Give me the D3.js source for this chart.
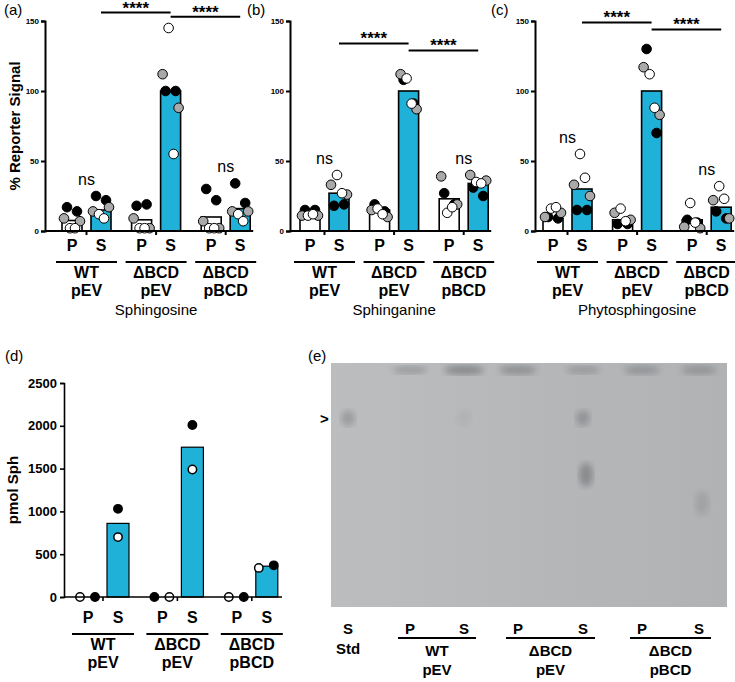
<!DOCTYPE html>
<html><head><meta charset="utf-8">
<script src="https://cdn.jsdelivr.net/npm/d3@7"></script>
<style>body{margin:0;background:#fff}text{font-family:"Liberation Sans",Arial,sans-serif}</style>
</head><body>
<svg id="fig" width="735" height="682"></svg>
<script>
// data
var groups = [["WT", "pEV"], ["\u0394BCD", "pEV"], ["\u0394BCD", "pBCD"]];
var fractions = ["P", "S"];
// point order per bar: black, black, gray, gray, white, white
var sphingosineBars = [7.5, 15, 8, 100, 10, 16];
var sphingosinePts = [[17, 14, 9, 7, 2, 2], [25, 22, 14, 17, 12, 9], [18, 19, 9, 2, 2, 2],
  [100, 100, 112, 88, 145, 55], [30, 22, 7, 2, 2, 2], [34, 20, 14, 14, 12, 7]];
var sphinganineBars = [13, 27, 15, 100, 23, 34];
var sphinganinePts = [[15, 15, 11, 11, 11, 12], [18, 19, 33, 26, 40, 27], [19, 14, 15, 10, 16, 12],
  [108, 91, 112, 87, 109, 91], [27, 19, 39, 19, 13, 17], [31, 25, 40, 36, 35, 34]];
var phytoBars = [9, 30, 8, 100, 8, 17];
var phytoPts = [[10, 9, 10, 13, 16, 17], [15, 15, 33, 25, 55, 38], [5, 5, 13, 8, 16, 7],
  [130, 70, 117, 83, 112, 88], [8, 6, 3, 2, 20, 6], [14, 9, 22, 9, 32, 23]];
var pctTicks = [0, 50, 100, 150];
var pmolBars = [0, 860, 0, 1750, 0, 360];
var pmolPts = [[0, 0], [1030, 700], [0, 0], [2010, 1490], [0, 0], [370, 340]]; // black, white
var pmolTicks = [0, 500, 1000, 1500, 2000, 2500];
var tlcLanes = ["Std", "WT P", "WT S", "\u0394BCD P", "\u0394BCD S", "pBCD P", "pBCD S"];
var tlcOrigin = [0, 0.4, 1, 0.8, 0.4, 0.6, 0.6];   // intensity of material left at the top
var tlcSpots = [[0, 0.2, 0.5], [4, 0.2, 0.6], [4, 0.44, 0.75], [2, 0.2, 0.12], [6, 0.56, 0.3]];

var svg = d3.select("#fig");
var cyan = "#1fb1d7";
var dotFill = ["#000", "#000", "#a9a9a9", "#a9a9a9", "#fff", "#fff"];
var jitter = [-5, 5, -8, 8, -2, 3];
var bold = "bold";

function groupLabels(g, xc, y0) {
  groups.forEach(function (gr, i) {
    var xp = xc(i * 2), xs = xc(i * 2 + 1);
    g.append("text").attr("x", xp).attr("y", y0).attr("text-anchor", "middle")
      .attr("font-size", 16).attr("font-weight", bold).text("P");
    g.append("text").attr("x", xs).attr("y", y0).attr("text-anchor", "middle")
      .attr("font-size", 16).attr("font-weight", bold).text("S");
    g.append("line").attr("x1", xp - 16).attr("x2", xs + 16).attr("y1", y0 + 11).attr("y2", y0 + 11)
      .attr("stroke", "#000").attr("stroke-width", 2);
    g.append("text").attr("x", (xp + xs) / 2).attr("y", y0 + 27).attr("text-anchor", "middle")
      .attr("font-size", 16).attr("font-weight", bold).text(gr[0]);
    g.append("text").attr("x", (xp + xs) / 2).attr("y", y0 + 45).attr("text-anchor", "middle")
      .attr("font-size", 16).attr("font-weight", bold).text(gr[1]);
  });
}

function panel(opt) {
  var g = svg.append("g");
  var y = d3.scaleLinear().domain([0, 150]).range([231, 21]);
  var slot = d3.scaleLinear().domain([0, 1]).range([opt.x0, opt.x0 + 29]);
  var xc = function (i) { return slot(Math.floor(i / 2) * 2.4 + i % 2); };
  g.append("text").attr("x", opt.lx).attr("y", 15).attr("font-size", 15).text(opt.letter);
  opt.bars.forEach(function (v, i) {
    g.append("rect").attr("x", xc(i) - 10).attr("width", 20).attr("y", y(v)).attr("height", y(0) - y(v))
      .attr("fill", i % 2 ? cyan : "#fff").attr("stroke", "#000").attr("stroke-width", 1.6);
  });
  opt.pts.forEach(function (vals, i) {
    vals.forEach(function (v, k) {
      g.append("circle").attr("cx", xc(i) + jitter[k]).attr("cy", y(v)).attr("r", 4.8)
        .attr("fill", dotFill[k]).attr("stroke", "#000").attr("stroke-width", 1);
    });
  });
  var ax = g.append("g").attr("transform", "translate(" + opt.ax + ",0)")
    .call(d3.axisLeft(y).tickValues(pctTicks).tickSize(4).tickPadding(2));
  ax.select(".domain").attr("stroke-width", 2);
  ax.selectAll("line").attr("stroke-width", 2);
  ax.selectAll("text").attr("font-size", 8).attr("font-weight", bold).attr("font-family", "Liberation Sans");
  g.append("line").attr("x1", opt.ax).attr("x2", xc(5) + 13).attr("y1", y(0)).attr("y2", y(0))
    .attr("stroke", "#000").attr("stroke-width", 2);
  [0, 2, 4].forEach(function (i) {
    var mx = (xc(i) + xc(i + 1)) / 2;
    g.append("line").attr("x1", mx).attr("x2", mx).attr("y1", y(0)).attr("y2", y(0) + 4)
      .attr("stroke", "#000").attr("stroke-width", 2);
  });
  // significance
  [[1, 3, opt.br[0]], [3, 5, opt.br[1]]].forEach(function (b) {
    var x1 = xc(b[0]), x2 = xc(b[1]), yy = y(b[2]);
    g.append("line").attr("x1", x1).attr("x2", x2).attr("y1", yy).attr("y2", yy)
      .attr("stroke", "#000").attr("stroke-width", 2);
    g.append("text").attr("x", (x1 + x2) / 2).attr("y", yy + 1).attr("text-anchor", "middle")
      .attr("font-size", 17).attr("font-weight", bold).text("****");
  });
  [0, 4].forEach(function (i) {
    var m = d3.max(opt.pts[i].concat(opt.pts[i + 1]));
    g.append("text").attr("x", (xc(i) + xc(i + 1)) / 2).attr("y", y(m) - 11).attr("text-anchor", "middle")
      .attr("font-size", 16).text("ns");
  });
  groupLabels(g, xc, 251);
  g.append("text").attr("x", (xc(0) + xc(5)) / 2).attr("y", 315).attr("text-anchor", "middle")
    .attr("font-size", 15).text(opt.title);
}

panel({letter: "(a)", lx: 4, ax: 45, x0: 72, bars: sphingosineBars, pts: sphingosinePts, br: [156, 153], title: "Sphingosine"});
panel({letter: "(b)", lx: 247, ax: 290, x0: 310, bars: sphinganineBars, pts: sphinganinePts, br: [134, 129], title: "Sphinganine"});
panel({letter: "(c)", lx: 491, ax: 535, x0: 553, bars: phytoBars, pts: phytoPts, br: [149, 144], title: "Phytosphingosine"});

svg.append("text").attr("transform", "translate(20,126) rotate(-90)").attr("text-anchor", "middle")
  .attr("font-size", 15).attr("font-weight", bold).text("% Reporter Signal");

// panel (d)
(function () {
  var g = svg.append("g");
  var y = d3.scaleLinear().domain([0, 2500]).range([597, 383]);
  var slot = d3.scaleLinear().domain([0, 1]).range([88, 118]);
  var xc = function (i) { return slot(Math.floor(i / 2) * 2.48 + i % 2); };
  g.append("text").attr("x", 5).attr("y", 361).attr("font-size", 15).text("(d)");
  pmolBars.forEach(function (v, i) {
    if (!(i % 2)) return;
    g.append("rect").attr("x", xc(i) - 11).attr("width", 22).attr("y", y(v)).attr("height", y(0) - y(v))
      .attr("fill", cyan).attr("stroke", "#000").attr("stroke-width", 1.2);
  });
  pmolPts.forEach(function (vals, i) {
    vals.forEach(function (v, k) {
      var off = i % 2 ? (i === 5 ? (k ? -8 : 7) : 0) : ((i === 2) === (k === 0) ? -8 : 7);
      g.append("circle").attr("cx", xc(i) + off).attr("cy", y(v)).attr("r", 4.2)
        .attr("fill", k ? "#fff" : "#000").attr("stroke", "#000").attr("stroke-width", 1.5);
    });
  });
  var ax = g.append("g").attr("transform", "translate(64,0)")
    .call(d3.axisLeft(y).tickValues(pmolTicks).tickFormat(d3.format("d")).tickSize(4).tickPadding(3));
  ax.select(".domain").attr("stroke-width", 1.6);
  ax.selectAll("line").attr("stroke-width", 1.6);
  ax.selectAll("text").attr("font-size", 13).attr("font-weight", bold).attr("font-family", "Liberation Sans");
  g.append("line").attr("x1", 64).attr("x2", 282).attr("y1", y(0)).attr("y2", y(0)).attr("stroke", "#000").attr("stroke-width", 1.6);
  [0, 2, 4].forEach(function (i) {
    var mx = (xc(i) + xc(i + 1)) / 2;
    g.append("line").attr("x1", mx).attr("x2", mx).attr("y1", y(0)).attr("y2", y(0) + 4).attr("stroke", "#000").attr("stroke-width", 1.6);
  });
  groupLabels(g, xc, 623);
  g.append("text").attr("transform", "translate(18,490) rotate(-90)").attr("text-anchor", "middle")
    .attr("font-size", 15).attr("font-weight", bold).text("pmol Sph");
})();

// panel (e) TLC plate
(function () {
  var g = svg.append("g");
  var top = 363, bot = 607;
  var laneX = d3.scaleOrdinal().domain(d3.range(7)).range([348, 410, 464, 518, 583, 642, 699]);
  var ry = d3.scaleLinear().domain([0, 1]).range([top + 8, bot]);
  var defs = svg.append("defs");
  defs.append("filter").attr("id", "blur").append("feGaussianBlur").attr("stdDeviation", 3);
  var grad = defs.append("linearGradient").attr("id", "plate");
  grad.append("stop").attr("offset", "0").attr("stop-color", "#bcbdbf");
  grad.append("stop").attr("offset", "0.6").attr("stop-color", "#b4b6b8");
  grad.append("stop").attr("offset", "1").attr("stop-color", "#b0b2b4");
  g.append("text").attr("x", 308).attr("y", 361).attr("font-size", 15).text("(e)");
  g.append("rect").attr("x", 331).attr("y", top).attr("width", 396).attr("height", bot - top).attr("fill", "url(#plate)");
  tlcOrigin.forEach(function (a, i) {
    if (!a) return;
    g.append("ellipse").attr("cx", laneX(i)).attr("cy", top + 7).attr("rx", 15 + a * 5).attr("ry", 3 + a * 2)
      .attr("fill", "#7e8082").attr("opacity", 0.4 + a * 0.4).attr("filter", "url(#blur)");
  });
  tlcSpots.forEach(function (s) {
    var big = s[1] > 0.3;
    g.append("ellipse").attr("cx", laneX(s[0]) + (big ? 3 : 0)).attr("cy", ry(s[1])).attr("rx", 7).attr("ry", big ? 12 : 8)
      .attr("fill", "#7c7e80").attr("opacity", s[2]).attr("filter", "url(#blur)");
  });
  g.append("text").attr("x", 320).attr("y", 424).attr("font-size", 15).attr("font-weight", bold).text(">");
  g.append("text").attr("x", laneX(0)).attr("y", 634).attr("text-anchor", "middle").attr("font-size", 15).attr("font-weight", bold).text("S");
  g.append("text").attr("x", laneX(0)).attr("y", 654).attr("text-anchor", "middle").attr("font-size", 15).attr("font-weight", bold).text("Std");
  groups.forEach(function (gr, i) {
    var xp = laneX(i * 2 + 1), xs = laneX(i * 2 + 2);
    g.append("text").attr("x", xp).attr("y", 634).attr("text-anchor", "middle").attr("font-size", 15).attr("font-weight", bold).text("P");
    g.append("text").attr("x", xs).attr("y", 634).attr("text-anchor", "middle").attr("font-size", 15).attr("font-weight", bold).text("S");
    g.append("line").attr("x1", xp - 12).attr("x2", xs + 12).attr("y1", 638).attr("y2", 638).attr("stroke", "#000").attr("stroke-width", 2);
    g.append("text").attr("x", (xp + xs) / 2).attr("y", 656).attr("text-anchor", "middle").attr("font-size", 15).attr("font-weight", bold).text(gr[0]);
    g.append("text").attr("x", (xp + xs) / 2).attr("y", 675).attr("text-anchor", "middle").attr("font-size", 15).attr("font-weight", bold).text(gr[1]);
  });
})();
</script>
</body></html>
